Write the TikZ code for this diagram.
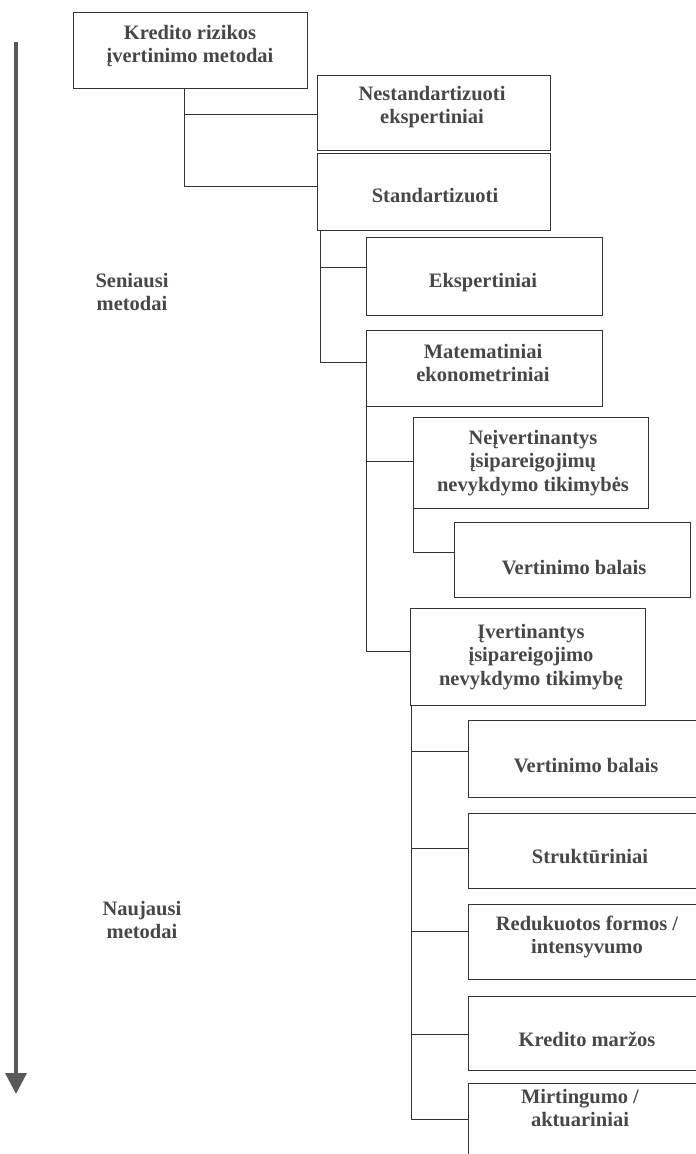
\documentclass[tikz,border=0pt]{standalone}
\usepackage{fontspec}
\setmainfont{Liberation Serif}
\usetikzlibrary{arrows.meta,calc}

\tikzset{
  box/.style={draw=black!80, line width=0.9pt, rectangle, inner sep=0pt},
  lbl/.style={font=\bfseries\fontsize{20.5}{23.5}\selectfont, text=black!72, align=center, inner sep=0pt},
  side/.style={lbl},
  conn/.style={draw=black!80, line width=0.9pt},
  timeline/.style={draw=black!65, line width=3.5pt, -{Triangle[width=21pt,length=21pt]}},
}

% box: name, x1, y1, x2, y2, text x, text y, text
\newcommand\methodbox[8]{%
  \node[box, minimum width={#4-#2}, minimum height={#5-#3}] (#1) at ({(#2+#4)/2},{(#3+#5)/2}) {};
  \node[lbl] (#1-t) at (#6,#7) {#8};
}

\begin{document}
\begin{tikzpicture}[x=1pt,y=-1pt]
  \useasboundingbox (0,0) rectangle (696,1154);
  \clip (0,0) rectangle (696,1154);

  % time axis
  \coordinate (tl0) at (16,42);
  \coordinate (tl1) at (16,1094);
  \draw[timeline] (tl0) -- (tl1);
  \node[side] (old) at (132,292) {Seniausi\\metodai};
  \node[side] (new) at (142,920) {Naujausi\\metodai};

  % boxes
  \methodbox{root}{73}{12}{307}{88}{190}{46}{Kredito rizikos\\įvertinimo metodai}
  \methodbox{nest}{317}{75}{550}{150}{432}{107}{Nestandartizuoti\\ekspertiniai}
  \methodbox{std}{317}{153}{550}{230}{435}{196}{Standartizuoti}
  \methodbox{eksp}{366}{237}{602}{315}{483}{283}{Ekspertiniai}
  \methodbox{mat}{366}{330}{602}{406}{483}{363}{Matematiniai\\ekonometriniai}
  \methodbox{neiv}{413}{417}{648}{508}{533}{463}{Neįvertinantys\\įsipareigojimų\\nevykdymo tikimybės}
  \methodbox{vbA}{454}{522}{690}{597}{574}{568}{Vertinimo balais}
  \methodbox{iv}{410}{608}{645}{705}{531}{657}{Įvertinantys\\įsipareigojimo\\nevykdymo tikimybę}
  \methodbox{vbB}{468}{720}{702}{797}{586}{766}{Vertinimo balais}
  \methodbox{str}{468}{813}{702}{888}{590}{857}{Struktūriniai}
  \methodbox{red}{468}{904}{702}{979}{587}{937}{Redukuotos formos /\\intensyvumo}
  \methodbox{km}{468}{996}{702}{1070}{587}{1039}{Kredito maržos}
  \methodbox{mirt}{468}{1083}{702}{1170}{580}{1108}{Mirtingumo /\\aktuariniai}

  % tree connectors
  \coordinate (r0) at ($(root.south west)+(112,0)$);
  \draw[conn] (r0) |- ($(nest.north west)+(0,40)$);
  \draw[conn] (r0) |- ($(std.north west)+(0,34)$);

  \coordinate (s0) at ($(std.south west)+(4,0)$);
  \draw[conn] (s0) |- ($(eksp.north west)+(0,31)$);
  \draw[conn] (s0) |- ($(mat.north west)+(0,33)$);

  \coordinate (m0) at ($(mat.south west)+(1,0)$);
  \draw[conn] (m0) |- ($(neiv.north west)+(0,45)$);
  \draw[conn] (m0) |- ($(iv.north west)+(0,44)$);

  \coordinate (n0) at ($(neiv.south west)+(1,0)$);
  \draw[conn] (n0) |- ($(vbA.north west)+(0,31)$);

  \coordinate (i0) at ($(iv.south west)+(2,0)$);
  \draw[conn] (i0) |- ($(vbB.north west)+(0,32)$);
  \draw[conn] (i0) |- ($(str.north west)+(0,36)$);
  \draw[conn] (i0) |- ($(red.north west)+(0,28)$);
  \draw[conn] (i0) |- ($(km.north west)+(0,39)$);
  \draw[conn] (i0) |- ($(mirt.north west)+(0,37)$);
\end{tikzpicture}
\end{document}
